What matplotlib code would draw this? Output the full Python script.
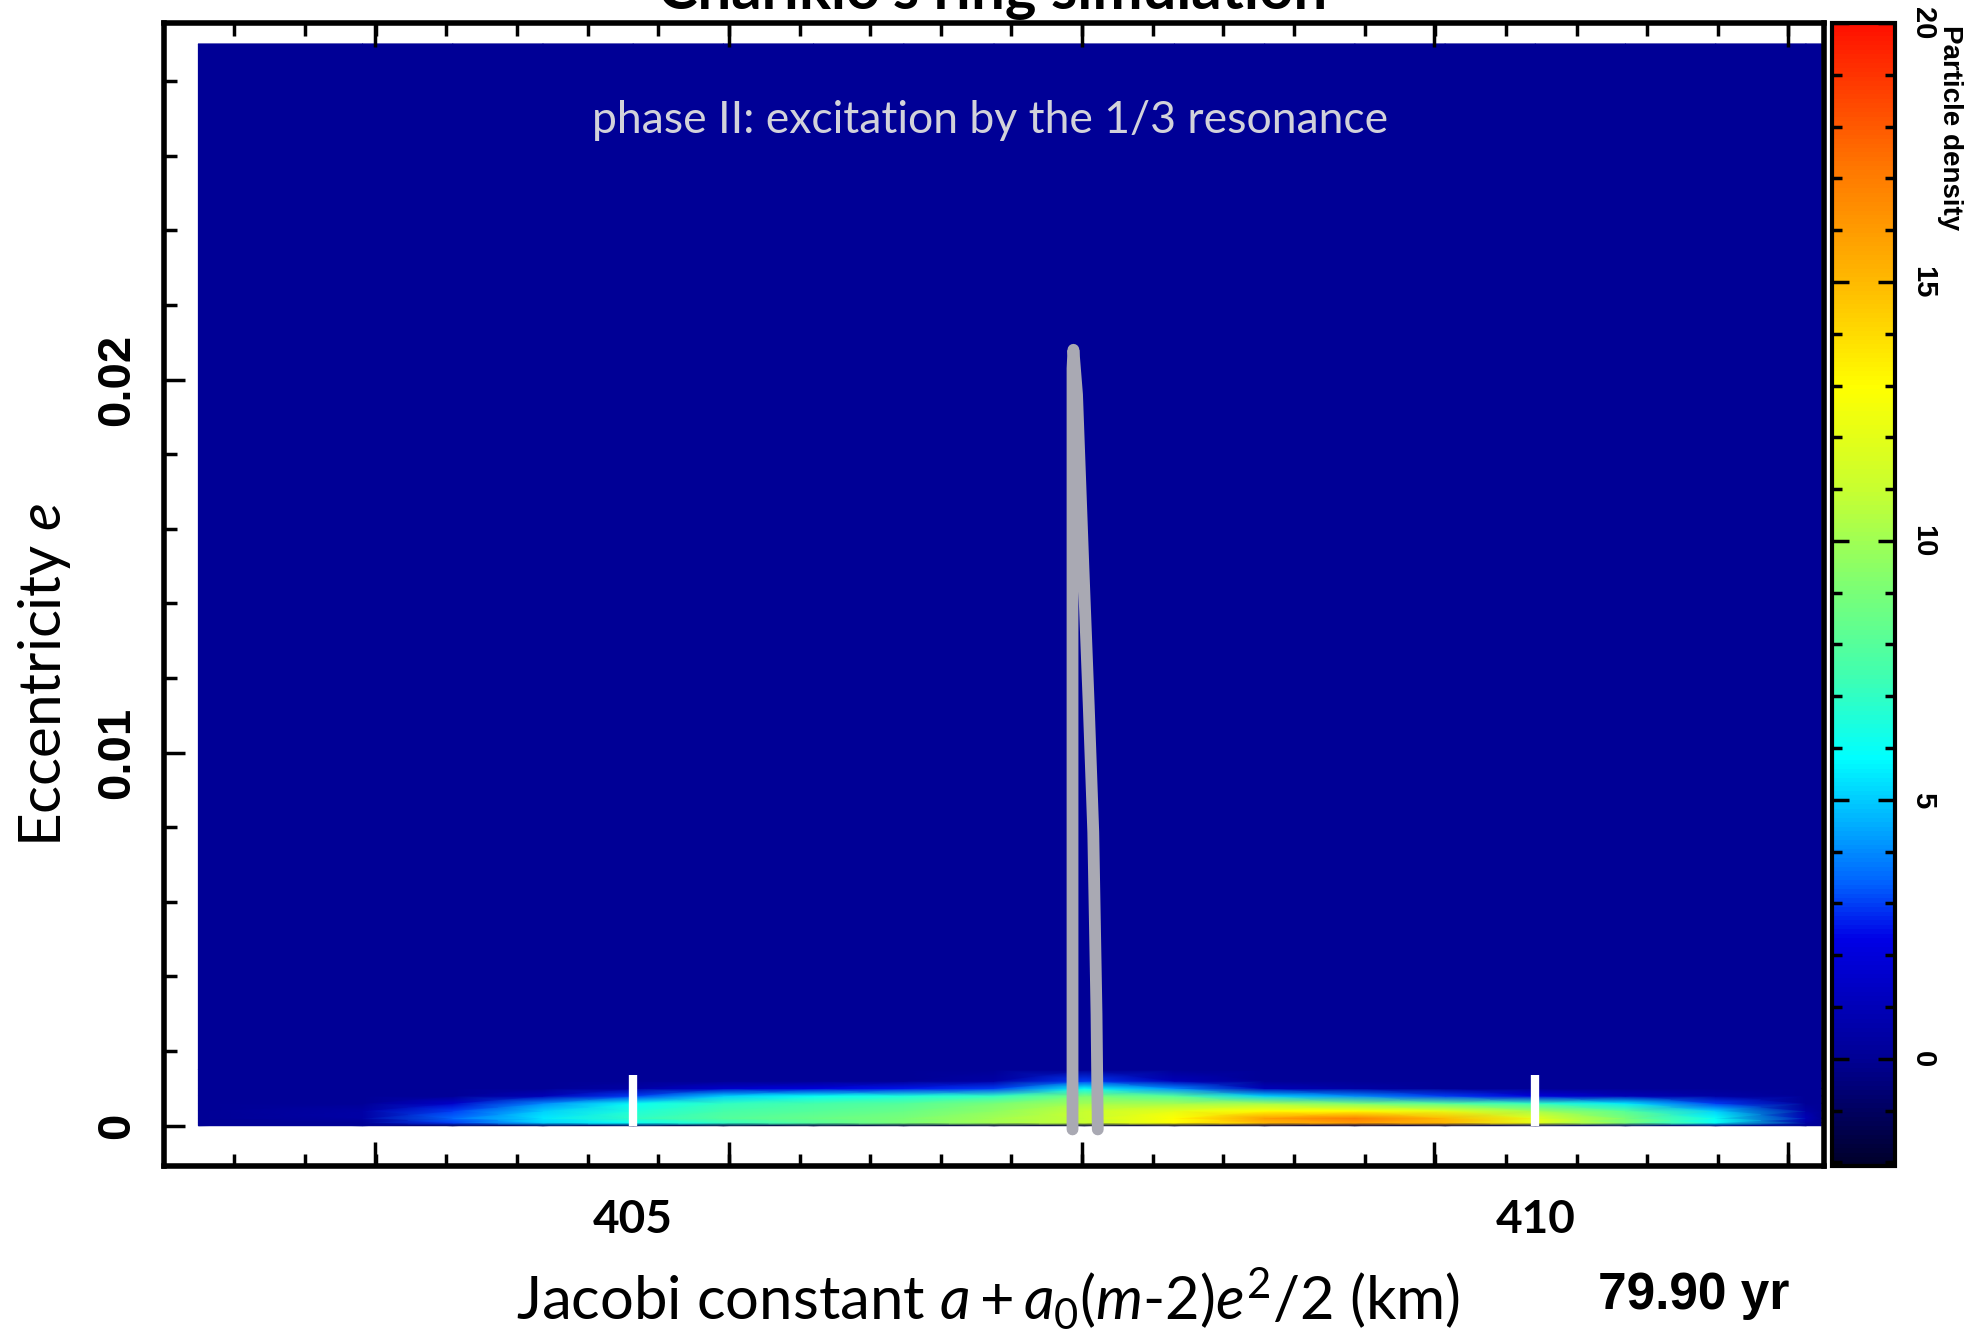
import numpy as np
import matplotlib
matplotlib.use('Agg')
import matplotlib.pyplot as plt
from matplotlib.colors import LinearSegmentedColormap, Normalize
from matplotlib.ticker import FixedLocator, MultipleLocator
from matplotlib.transforms import blended_transform_factory

plt.rcParams['mathtext.fontset'] = 'custom'
plt.rcParams['mathtext.rm'] = 'Lato'
plt.rcParams['mathtext.it'] = 'Lato:italic'
plt.rcParams['mathtext.bf'] = 'Lato:bold'

# particle density, rows = eccentricity, columns = Jacobi constant (km)
jacobi_nodes = [403.5, 404.0, 404.5, 405.0, 405.5, 406.0, 406.5, 407.0, 407.5,
                408.0, 408.5, 409.0, 409.5, 410.0, 410.5, 411.0, 411.5]
ecc_nodes = [0.0, 0.00008, 0.0002, 0.0004, 0.0006, 0.0008, 0.0010, 0.0012, 0.0015]
density = [
    [0, -1, -1, -1, -1.5, -1.5, -1.5, -1.5, -1.5, -1.5, -1.5, -1.5, -1.5, -1, -1, -0.5, 0],
    [0, 3, 5, 6, 7, 8, 9, 10, 11, 13, 15, 16, 15, 12, 9, 6, 0.5],
    [0.5, 3.5, 5.5, 7, 8, 8.5, 9, 10, 11, 13, 16, 17, 15, 12, 9, 6, 1],
    [0.5, 3, 5, 6.5, 7.5, 8, 8.5, 9.5, 11, 12, 13, 13, 12, 10, 8, 5, 0.5],
    [0, 1.5, 4, 6, 7, 7.5, 8, 9, 10, 10, 10, 9, 8, 7, 5.5, 3, 0],
    [0, 0, 1, 3, 5, 6, 6.5, 7, 9, 8, 5, 4, 3, 2, 1, 0.5, 0],
    [0, 0, 0, 0.5, 1.5, 2, 2.5, 3, 6, 4, 1, 0.5, 0, 0, 0, 0, 0],
    [0, 0, 0, 0, 0, 0, 0, 0.5, 3, 1, 0, 0, 0, 0, 0, 0, 0],
    [0, 0, 0, 0, 0, 0, 0, 0, 0, 0, 0, 0, 0, 0, 0, 0, 0],
]

# extent of the simulated map
grid_x = (402.59, 411.585)
grid_e = (0.0, 0.029)

# grey resonance curve
curve_x = [407.435, 407.435, 407.44, 407.46, 407.495, 407.525, 407.55, 407.568, 407.575]
curve_e = [-0.0001, 0.0203, 0.0208, 0.0196, 0.0150, 0.01125, 0.00787, 0.0030, -0.0001]

# white markers
marker_x = [405, 410]
marker_top = 0.00135

# colour scale
dens_min, dens_max = -2.07, 20
cmap_values = [-2.07, 0, 2.3, 3.4, 4.6, 5.8, 7.4, 9.2, 11, 13, 14.8, 17.2, 20]
cmap_colors = ['#00002a', '#000096', '#0000e6', '#0064ff', '#00b4ff', '#00ffff', '#40ffb0',
               '#80ff70', '#c8ff30', '#ffff00', '#ffc000', '#ff7800', '#ff1000']
cmap = LinearSegmentedColormap.from_list(
    'dens', [((v - dens_min) / (dens_max - dens_min), c) for v, c in zip(cmap_values, cmap_colors)])
norm = Normalize(dens_min, dens_max)

fig = plt.figure(figsize=(19.77, 13.37), dpi=100)
ax = fig.add_axes([0.0830, 0.1279, 0.8396, 0.8549])

X = np.concatenate([[grid_x[0]], jacobi_nodes, [grid_x[1]]])
E = np.concatenate([ecc_nodes, [grid_e[1]]])
Z = np.pad(np.array(density, dtype=float), ((0, 1), (1, 1)))
mesh = ax.pcolormesh(X, E, Z, shading='gouraud', cmap=cmap, norm=norm, zorder=1)

ax.plot(curve_x, curve_e, color='#a9a9b3', lw=8.5, solid_capstyle='round',
        solid_joinstyle='round', zorder=3)
ax.vlines(marker_x, 0, marker_top, color='white', lw=6, zorder=4)

ax.set_xlim(402.40, 411.60)
ax.set_ylim(-0.00108, 0.02956)

xmajor = [403.57, 405.53, 407.49, 409.44, 411.40]
ax.xaxis.set_major_locator(FixedLocator(xmajor))
ax.xaxis.set_minor_locator(FixedLocator(np.arange(402.79, 411.45, 0.3915)))
ax.yaxis.set_major_locator(FixedLocator([0, 0.01, 0.02]))
ax.yaxis.set_minor_locator(MultipleLocator(0.002))
ax.tick_params(axis='x', which='both', direction='in', top=True, bottom=True,
               labelbottom=False, width=2.5)
ax.tick_params(axis='x', which='major', length=17)
ax.tick_params(axis='x', which='minor', length=9)
ax.tick_params(axis='y', which='both', direction='in', left=True, right=False, width=2.5)
ax.tick_params(axis='y', which='major', length=15, pad=18)
ax.tick_params(axis='y', which='minor', length=9)
ax.set_yticklabels(['0', '0.01', '0.02'], rotation=90, va='center', ha='right',
                   family='Liberation Sans', fontweight='bold', fontsize=34)
for s in ax.spines.values():
    s.set_linewidth(4)

# colorbar
cax = fig.add_axes([0.9267, 0.1279, 0.0319, 0.8549])
cb = fig.colorbar(mesh, cax=cax)
cb.set_ticks([0, 5, 10, 15, 20])
cb.ax.yaxis.set_minor_locator(MultipleLocator(1))
cb.ax.tick_params(which='both', direction='in', left=True, right=True, width=2.5, pad=10)
cb.ax.tick_params(which='major', length=12)
cb.ax.tick_params(which='minor', length=7)
cb.ax.set_yticklabels(['0', '5', '10', '15', '20'], rotation=-90, va='center', ha='left',
                      family='Liberation Sans', fontweight='bold', fontsize=21)
cb.outline.set_linewidth(3)
fig.text(0.9863, 0.981, 'Particle density', rotation=-90, ha='center', va='top',
         family='Liberation Sans', fontweight='bold', fontsize=20)

# texts
fig.text(0.502, 0.9933, "Chariklo's ring simulation", ha='center', va='baseline',
         family='Lato', fontweight='bold', fontsize=43)
fig.text(0.5008, 0.910, 'phase II: excitation by the 1/3 resonance', ha='center', va='center',
         family='Lato', color='#d2d2da', fontsize=32)
trans = blended_transform_factory(ax.transData, fig.transFigure)
for v in marker_x:
    ax.text(v, 0.0875, str(v), transform=trans, ha='center', va='center',
            family='Lato', fontweight='bold', fontsize=33)
fig.text(0.4995, 0.0286, r'Jacobi constant $\mathit{a + a_0(m}$-$\mathit{2)e^2/2}$ (km)',
         ha='center', va='center', family='Lato', fontsize=43)
fig.text(0.0223, 0.495, r'Eccentricity $e$', rotation=90, ha='center', va='center',
         family='Lato', fontsize=42)
fig.text(0.8565, 0.0314, '79.90 yr', ha='center', va='center',
         family='Liberation Sans', fontweight='bold', fontsize=37)

fig.savefig('out.png', dpi=100)
